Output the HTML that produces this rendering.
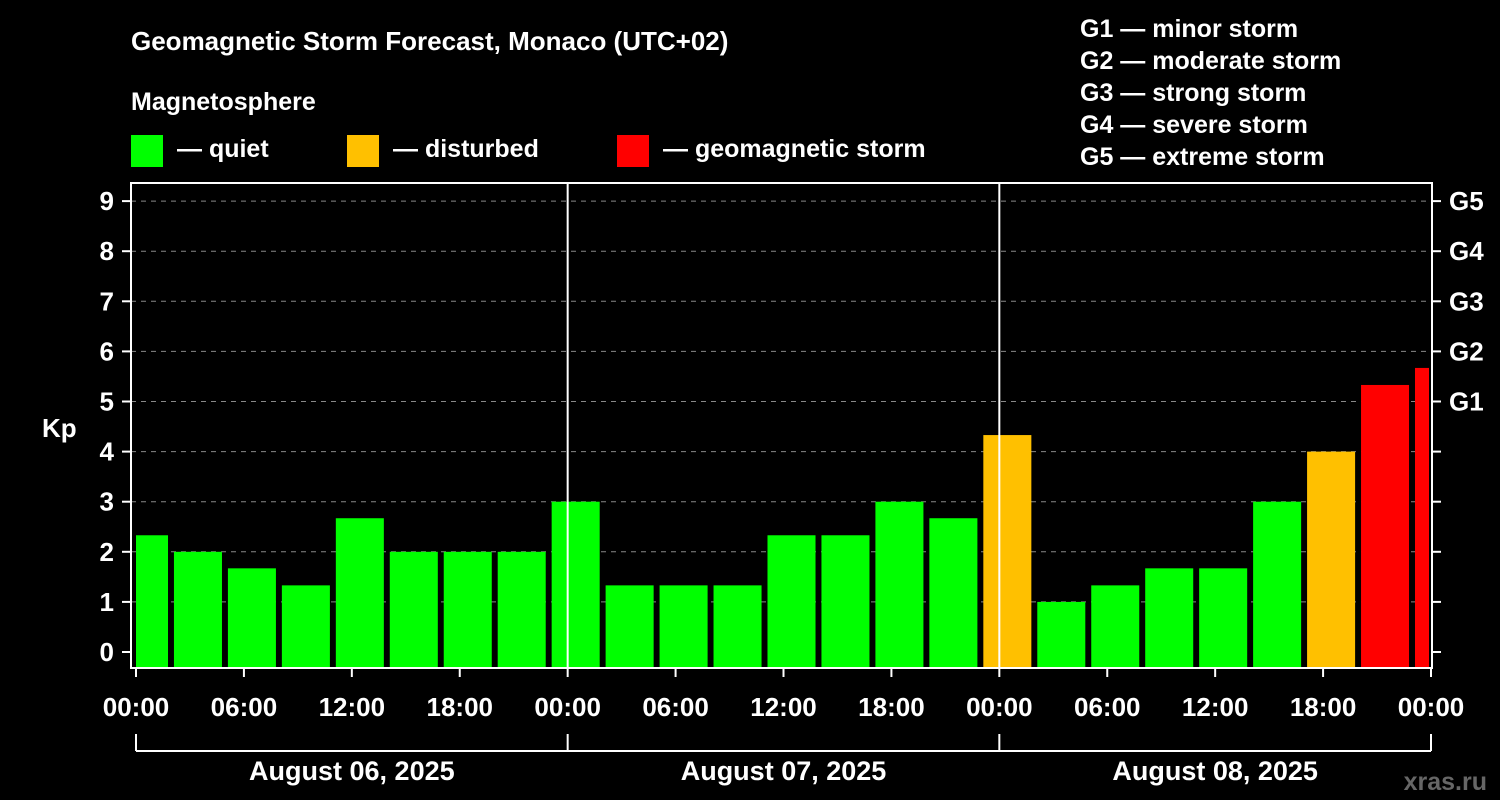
<!DOCTYPE html>
<html><head><meta charset="utf-8"><style>
body{margin:0;background:#000;}
svg{display:block;font-family:"Liberation Sans",sans-serif;font-weight:bold;}
</style></head><body>
<svg id="chart" width="1500" height="800" viewBox="0 0 1500 800">
<rect width="1500" height="800" fill="#000"/>
<text x="131" y="50" fill="#fff" font-size="26">Geomagnetic Storm Forecast, Monaco (UTC+02)</text>
<text x="131" y="110" fill="#fff" font-size="25">Magnetosphere</text>
<g><rect x="131" y="135" width="32" height="32" fill="#00ff00"/><text x="177" y="157" fill="#fff" font-size="25">— quiet</text></g>
<g><rect x="347" y="135" width="32" height="32" fill="#ffc000"/><text x="393" y="157" fill="#fff" font-size="25">— disturbed</text></g>
<g><rect x="617" y="135" width="32" height="32" fill="#ff0000"/><text x="663" y="157" fill="#fff" font-size="25">— geomagnetic storm</text></g>
<g fill="#fff" font-size="25">
<text x="1080" y="37">G1 — minor storm</text><text x="1080" y="69">G2 — moderate storm</text><text x="1080" y="101">G3 — strong storm</text><text x="1080" y="133">G4 — severe storm</text><text x="1080" y="165">G5 — extreme storm</text>
</g>
<text x="42" y="437" fill="#fff" font-size="26">Kp</text>
<text x="1487" y="790" fill="#666" font-size="25" text-anchor="end">xras.ru</text>
<defs><clipPath id="pc"><rect x="136" y="183" width="1293" height="485"/></clipPath></defs>
<g id="grid"></g><g id="bars" clip-path="url(#pc)"></g><g id="axes"></g>
</svg>
<script>
const kpValues=[2.33,2,1.67,1.33,2.67,2,2,2,3,1.33,1.33,1.33,2.33,2.33,3,2.67,4.33,1,1.33,1.67,1.67,3,4,5.33,5.67];
const yTicks=[0,1,2,3,4,5,6,7,8,9];
const gLabels=["G1","G2","G3","G4","G5"];
const gLevels=[5,6,7,8,9];
const timeTicks=["00:00","06:00","12:00","18:00","00:00","06:00","12:00","18:00","00:00","06:00","12:00","18:00","00:00"];
const dayLabels=["August 06, 2025","August 07, 2025","August 08, 2025"];
const NS="http://www.w3.org/2000/svg";
const x=h=>136+h*(1295/72);
const y=v=>652-v*50.1;
function mk(p,t,a){const e=document.createElementNS(NS,t);for(const k in a)e.setAttribute(k,a[k]);p.appendChild(e);return e;}
const grid=document.getElementById('grid'),bars=document.getElementById('bars'),axes=document.getElementById('axes');
yTicks.forEach(v=>{
 if(v>0){const l=mk(grid,'line',{x1:131,x2:1432,y1:y(v),y2:y(v),stroke:'#888','stroke-dasharray':'5,5','stroke-width':1});
 
 }
 const t=mk(axes,'line',{x1:122,x2:131,y1:y(v),y2:y(v),stroke:'#fff','stroke-width':2});
 
 
 const r=mk(axes,'line',{x1:1432,x2:1441,y1:y(v),y2:y(v),stroke:'#fff','stroke-width':2});
 
 
 const tx=mk(axes,'text',{x:114,y:y(v)+9,fill:'#fff','font-size':26,'text-anchor':'end'});tx.textContent=v;
 
 
});
gLabels.forEach((g,i)=>{const t=mk(axes,'text',{x:1449,y:y(gLevels[i])+9,fill:'#fff','font-size':26});t.textContent=g;
 
 });
kpValues.forEach((v,i)=>{
 const c=v>=5?'#ff0000':(v>=4?'#ffc000':'#00ff00');
 const x0=x(3*i-0.89),x1=x(3*i+1.78);
 const b=mk(bars,'rect',{x:x0,y:y(v),width:x1-x0,height:668-y(v),fill:c});
 
 
});
[24,48].forEach(h=>{const l=mk(axes,'line',{x1:x(h),x2:x(h),y1:183,y2:668,stroke:'#fff','stroke-width':2});
 
 });
const f=mk(axes,'rect',{x:131,y:183,width:1301,height:485,fill:'none',stroke:'#fff','stroke-width':2});


timeTicks.forEach((s,i)=>{const h=i*6;
 const t=mk(axes,'line',{x1:x(h),x2:x(h),y1:668,y2:677,stroke:'#fff','stroke-width':2});
 
 
 const tx=mk(axes,'text',{x:x(h),y:716,fill:'#fff','font-size':26,'text-anchor':'middle'});tx.textContent=s;
 
 
});
const bl=mk(axes,'line',{x1:x(0),x2:x(72),y1:751,y2:751,stroke:'#fff','stroke-width':2});


[0,24,48,72].forEach(h=>{const l=mk(axes,'line',{x1:x(h),x2:x(h),y1:734,y2:751,stroke:'#fff','stroke-width':2});
 
 });
dayLabels.forEach((d,i)=>{const t=mk(axes,'text',{x:x(24*i+12),y:780,fill:'#fff','font-size':27,'text-anchor':'middle'});t.textContent=d;
 
 });
</script>
</body></html>
